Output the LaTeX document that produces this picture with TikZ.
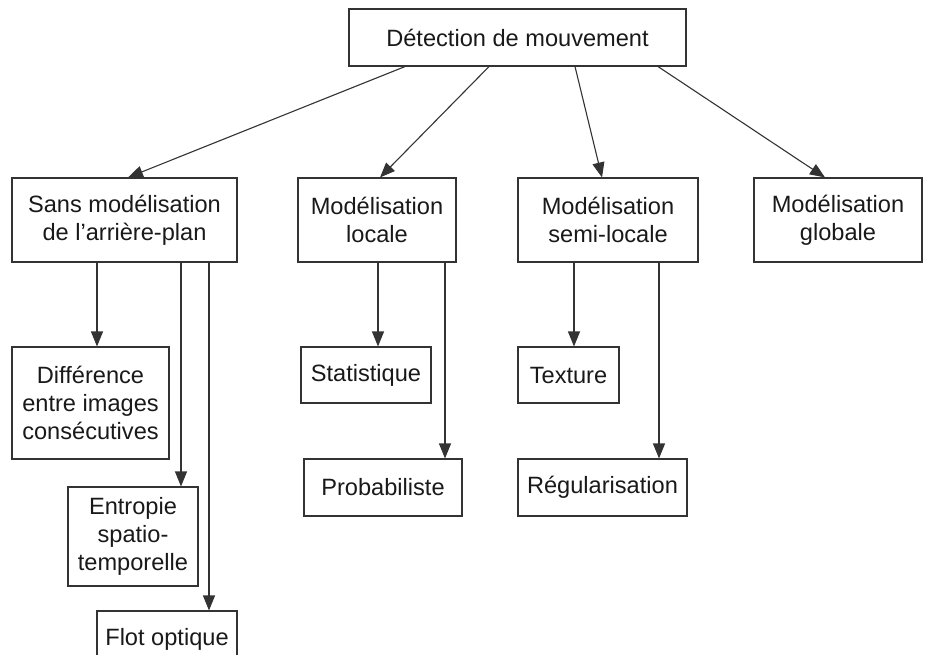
\documentclass[tikz,border=0pt]{standalone}
\usepackage{fontspec}
\setmainfont{Liberation Sans}
\usetikzlibrary{arrows.meta}

\begin{document}
\begin{tikzpicture}[x=0.5pt, y=-0.5pt, >={Triangle[length=7.5pt,width=6pt]},
  lien/.style={->, draw=black!80, line width=0.55pt},
  bloc/.style={draw=black!80, line width=0.55pt, inner sep=0pt, align=center, text=black!90,
    font=\fontsize{11.8}{14}\selectfont}]
\clip (0,0) rectangle (925,654);

\node[bloc, minimum width=168.5pt, minimum height=28.5pt] (Detection) at (517.5,37.5) {Détection de mouvement};
\node[bloc, minimum width=112.5pt, minimum height=42pt] (SansModelisation) at (124.5,220) {Sans modélisation\\de l’arrière-plan};
\node[bloc, minimum width=79pt, minimum height=42pt] (Locale) at (377,220) {Modélisation\\locale};
\node[bloc, minimum width=90pt, minimum height=42pt] (SemiLocale) at (608,220) {Modélisation\\semi-locale};
\node[bloc, minimum width=84pt, minimum height=42pt] (Globale) at (838,220) {Modélisation\\globale};

\node[bloc, minimum width=78.5pt, minimum height=56pt] (Difference) at (90.5,403) {Différence\\entre images\\consécutives};
\node[bloc, minimum width=65pt, minimum height=49.5pt] (Entropie) at (133,536.5) {Entropie\\spatio-\\temporelle};
\node[bloc, minimum width=70pt, minimum height=28.5pt] (FlotOptique) at (167,639.5) {Flot optique};
\node[bloc, minimum width=65pt, minimum height=28pt] (Statistique) at (366,375) {Statistique};
\node[bloc, minimum width=79pt, minimum height=28.5pt] (Probabiliste) at (383,487.5) {Probabiliste};
\node[bloc, minimum width=50.5pt, minimum height=28pt] (Texture) at (568.5,375) {Texture};
\node[bloc, minimum width=84.5pt, minimum height=28.5pt] (Regularisation) at (602.5,487.5) {Régularisation};

\draw[lien] ([xshift=-56.25pt]Detection.south) -- ([xshift=1.75pt]SansModelisation.north);
\draw[lien] ([xshift=-14.25pt]Detection.south) -- ([xshift=1.5pt]Locale.north);
\draw[lien] ([xshift=28.75pt]Detection.south)  -- ([xshift=-3pt]SemiLocale.north);
\draw[lien] ([xshift=70.25pt]Detection.south)  -- ([xshift=-6.5pt]Globale.north);

\draw[lien] ([xshift=-13.75pt]SansModelisation.south) -- ([xshift=3.25pt]Difference.north);
\draw[lien] ([xshift=28.25pt]SansModelisation.south)  -- ([xshift=24pt]Entropie.north);
\draw[lien] ([xshift=42.25pt]SansModelisation.south)  -- ([xshift=21pt]FlotOptique.north);
\draw[lien] ([xshift=0.5pt]Locale.south)  -- ([xshift=6pt]Statistique.north);
\draw[lien] ([xshift=34pt]Locale.south)   -- ([xshift=31pt]Probabiliste.north);
\draw[lien] ([xshift=-17pt]SemiLocale.south)  -- ([xshift=2.75pt]Texture.north);
\draw[lien] ([xshift=25.5pt]SemiLocale.south) -- ([xshift=28.25pt]Regularisation.north);

\end{tikzpicture}
\end{document}
